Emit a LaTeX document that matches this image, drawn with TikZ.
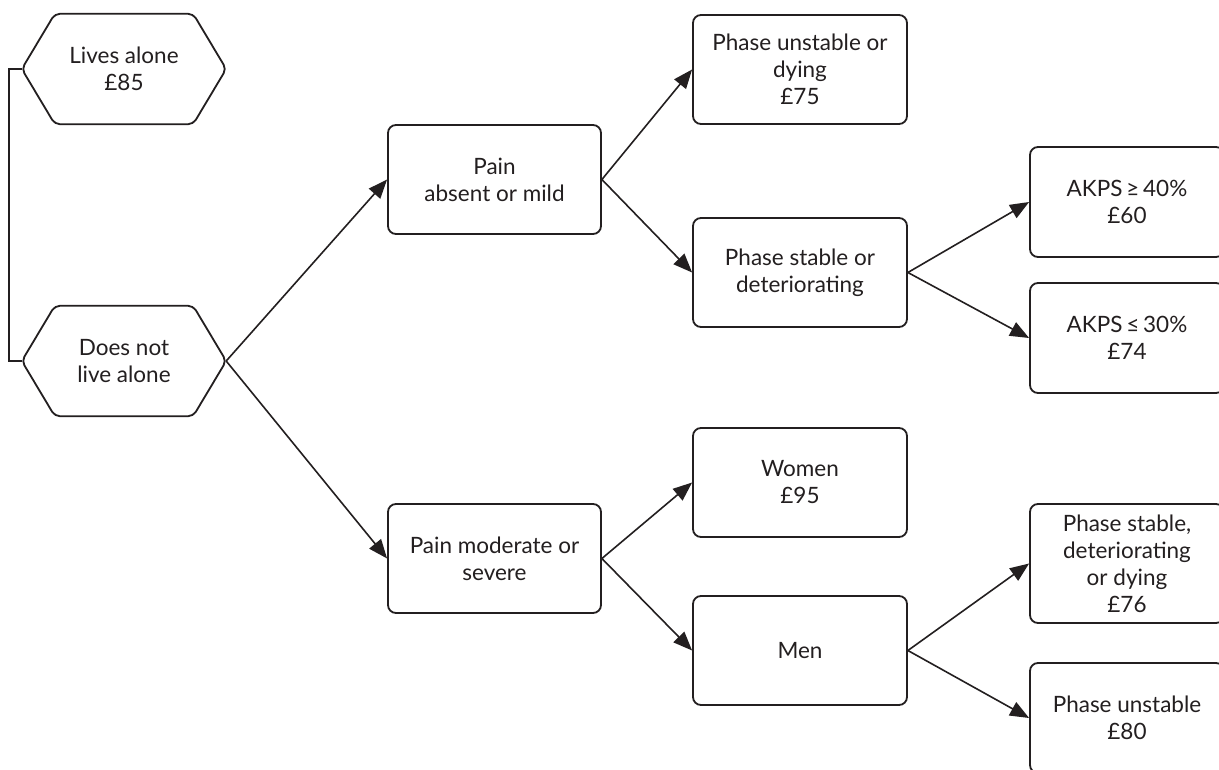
\documentclass[tikz,border=0pt]{standalone}
\usepackage{fontspec}
\setmainfont{Lato}
\usetikzlibrary{arrows.meta}
\definecolor{ink}{HTML}{231F20}
\tikzset{
  base/.style={draw=ink, line width=1.8pt, text=ink, align=center, font=\fontsize{22.5}{27}\selectfont},
  box/.style={base, rounded corners=8pt, minimum width=213pt, minimum height=109pt, inner sep=2pt},
  hexnode/.style={align=center, text=ink, font=\fontsize{22.5}{27}\selectfont, minimum width=204pt, minimum height=110pt, inner sep=0pt},
  hexline/.style={draw=ink, line width=1.8pt, rounded corners=5pt},
  conn/.style={draw=ink, line width=1.6pt, -{Triangle[length=19pt,width=15pt]}},
  plain/.style={draw=ink, line width=1.6pt}
}
\begin{document}
\begin{tikzpicture}[x=1pt,y=-1pt]
\clip (0,0) rectangle (1219,769);
\fill[white] (0,0) rectangle (1219,769);
% hexagons
\node[hexnode] (h1) at (124,69) {Lives alone\\£85};
\node[hexnode] (h2) at (124,361) {Does not\\live alone};
\foreach \h in {h1,h2}{
  \draw[hexline] (\h.west) -- ([xshift=33pt]\h.north west) -- ([xshift=-33pt]\h.north east) -- (\h.east) -- ([xshift=-33pt]\h.south east) -- ([xshift=33pt]\h.south west) -- cycle;
}
\draw[plain] (h1.west) -- ++(-13,0) |- (h2.west);
% second level
\node[box] (pa) at (494.5,179.5) {Pain\\absent or mild};
\node[box] (pm) at (494.5,558.5) {Pain moderate or\\severe};
% third level
\node[box, minimum width=214pt] (pu) at (800,69.5) {Phase unstable or\\dying\\£75};
\node[box, minimum width=214pt] (ps) at (800,272.5) {Phase stable or\\deteriorating};
\node[box, minimum width=214pt] (wo) at (800,482.5) {Women\\£95};
\node[box, minimum width=214pt] (me) at (800,650.5) {Men};
% fourth level
\node[box, minimum width=194pt, minimum height=110pt] (a40) at (1127,202) {AKPS\,≥\,40\%\\£60};
\node[box, minimum width=194pt, minimum height=110pt] (a30) at (1127,338) {AKPS\,≤\,30\%\\£74};
\node[box, minimum width=194pt, minimum height=119pt] (p76) at (1127,563.5) {Phase stable,\\deteriorating\\or dying\\£76};
\node[box, minimum width=194pt, minimum height=110pt] (p80) at (1127,718) {Phase unstable\\£80};
% connectors
\draw[conn] (h2.east) -- (pa.west);
\draw[conn] (h2.east) -- (pm.west);
\draw[conn] (pa.east) -- (pu.west);
\draw[conn] (pa.east) -- (ps.west);
\draw[conn] (pm.east) -- (wo.west);
\draw[conn] (pm.east) -- (me.west);
\draw[conn] (ps.east) -- (a40.west);
\draw[conn] (ps.east) -- (a30.west);
\draw[conn] (me.east) -- (p76.west);
\draw[conn] (me.east) -- (p80.west);
\end{tikzpicture}
\end{document}
